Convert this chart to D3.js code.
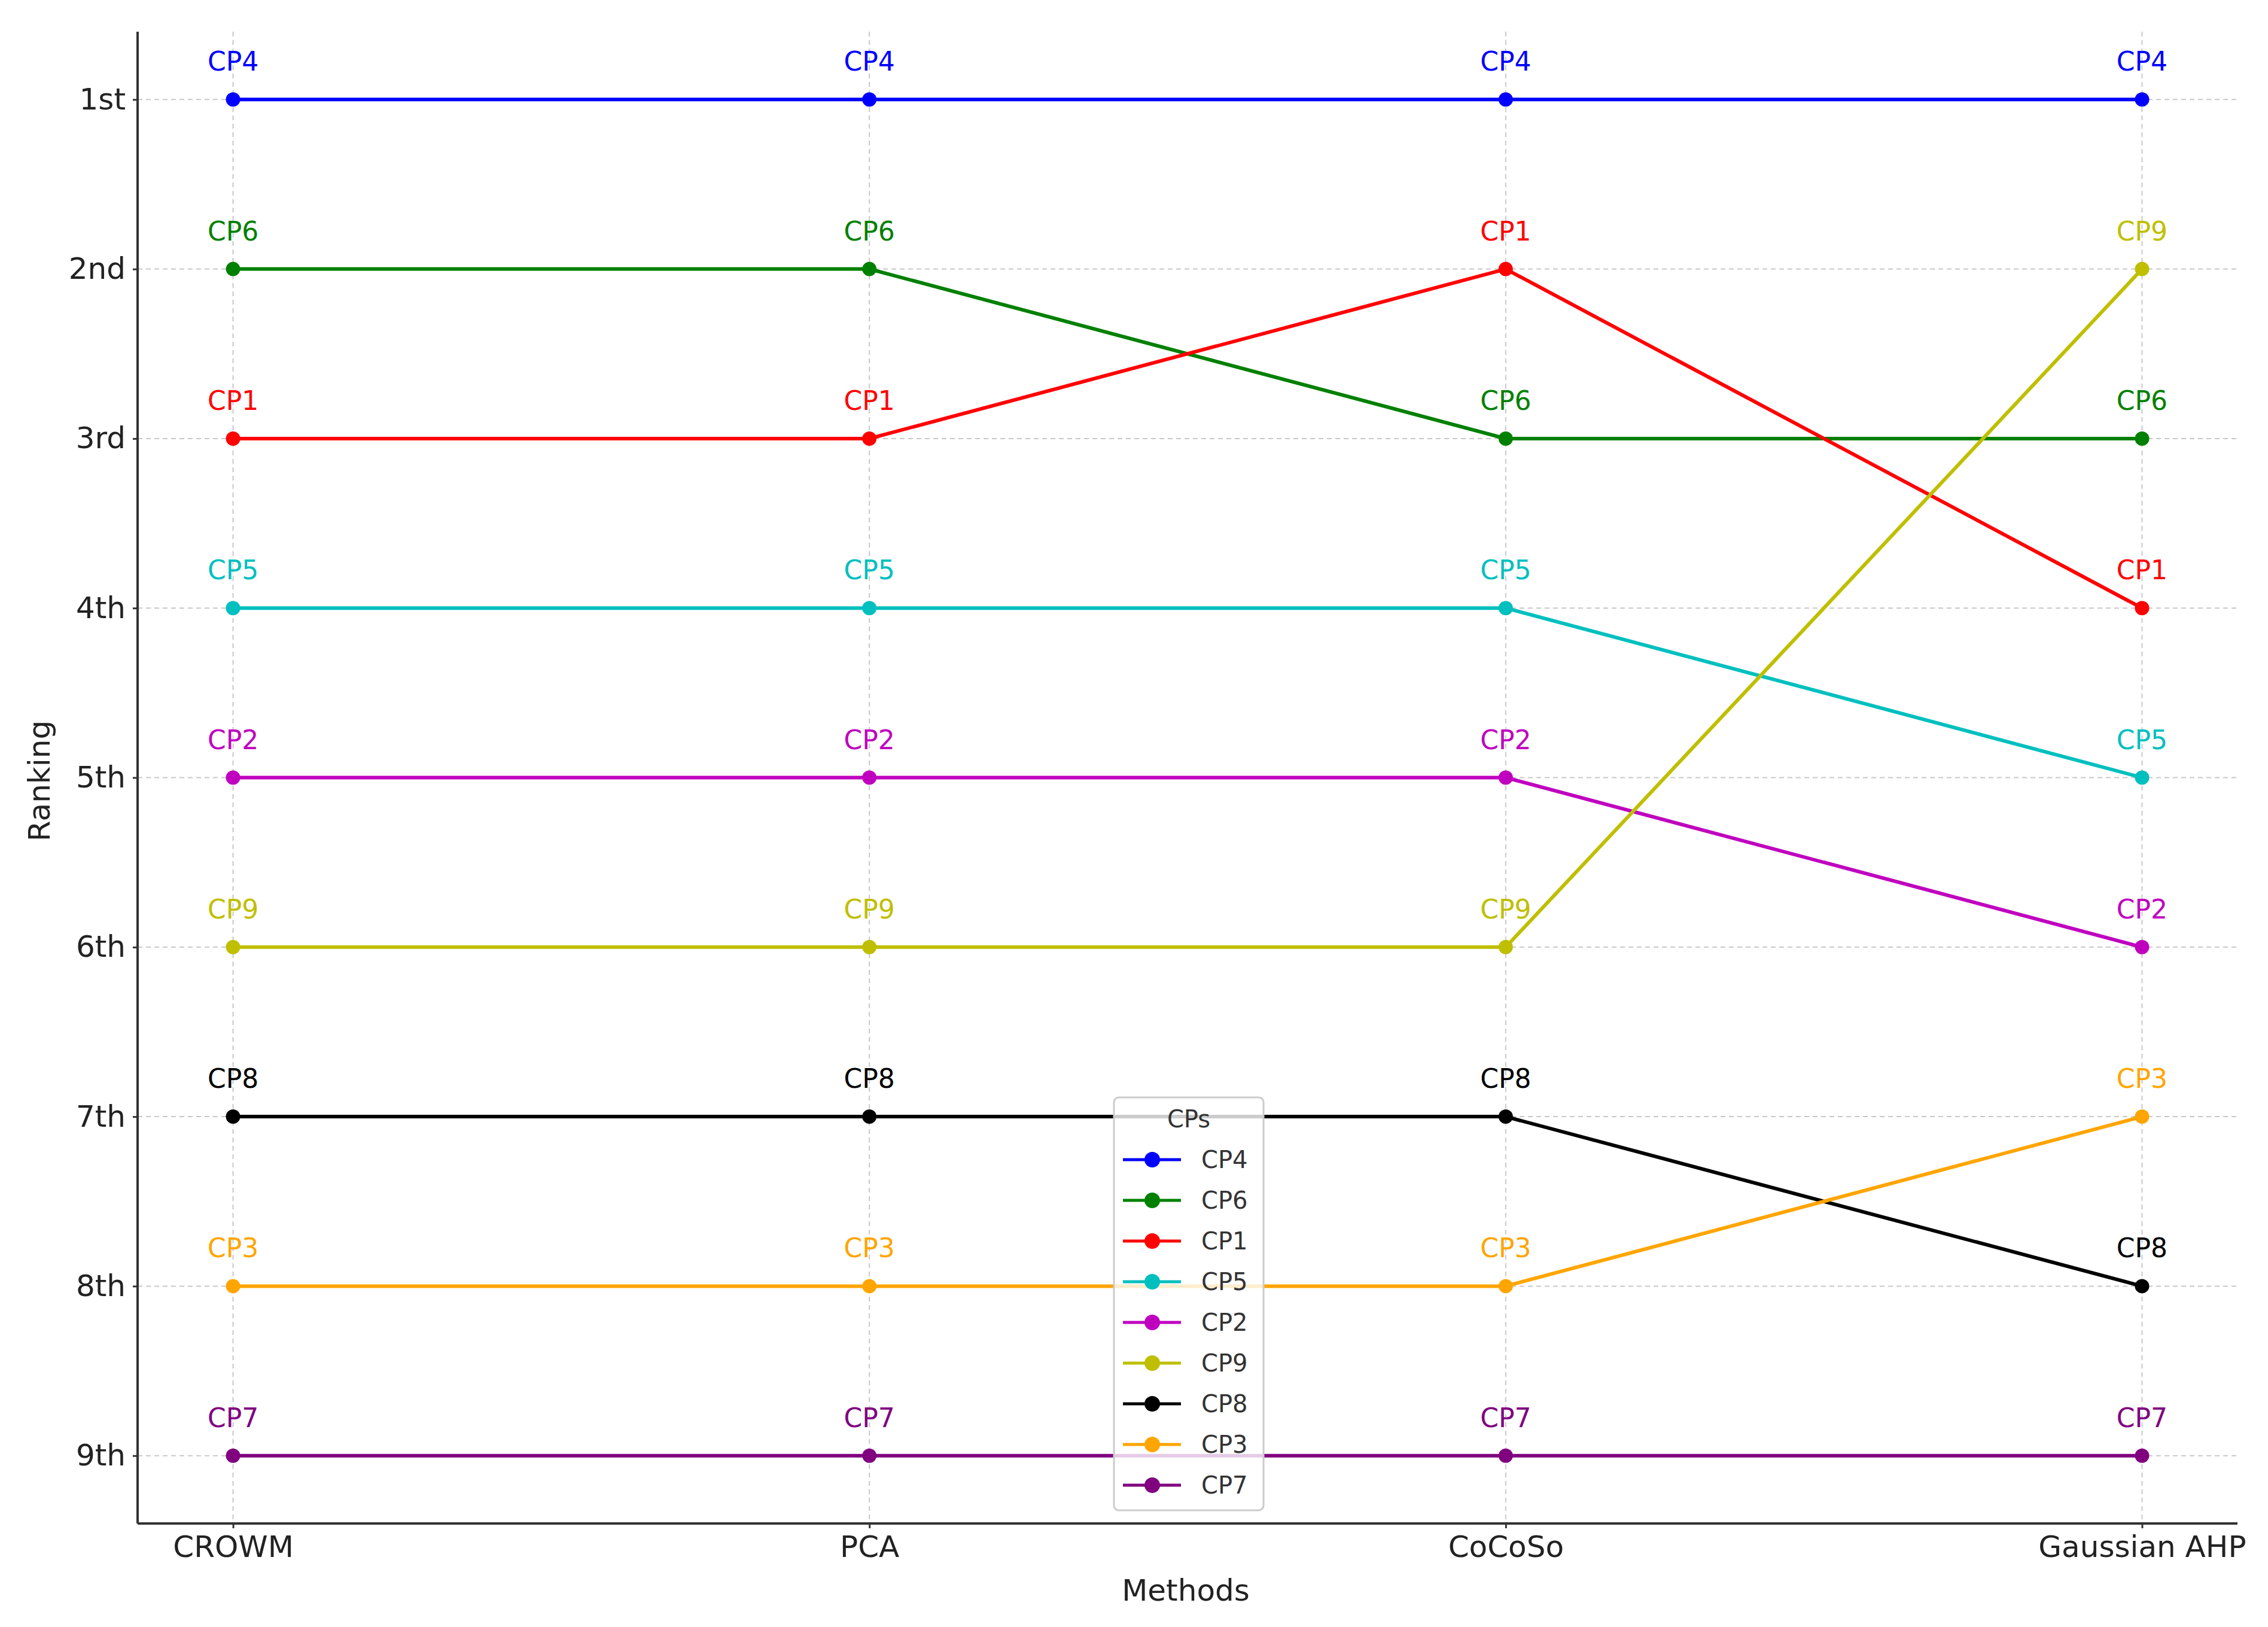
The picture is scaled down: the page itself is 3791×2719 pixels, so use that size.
<!DOCTYPE html>
<html><head><meta charset="utf-8">
<script src="https://cdn.jsdelivr.net/npm/d3@7"></script>
<style>body{margin:0;background:#fff}text{font-family:"DejaVu Sans",sans-serif}</style>
</head><body><svg id="c" width="3791" height="2719"></svg>
<script>
const methods=["CROWM","PCA","CoCoSo","Gaussian AHP"];
const rankLabels=["1st","2nd","3rd","4th","5th","6th","7th","8th","9th"];
const cps=["CP4","CP6","CP1","CP5","CP2","CP9","CP8","CP3","CP7"];
const colors=["#0000ff","#008000","#ff0000","#00bfbf","#bf00bf","#bfbf00","#000000","#ffa500","#800080"];
const ranks=[[1,1,1,1],[2,2,3,3],[3,3,2,4],[4,4,4,5],[5,5,5,6],[6,6,6,2],[7,7,7,8],[8,8,8,7],[9,9,9,9]];

const svg=d3.select("#c");
const L=230,R=3740,T=53,B=2546;
const xs=d3.scaleLinear().domain([-0.15,3.15]).range([L,R]);
const y=d3.scaleLinear().domain([0.6,9.4]).range([T,B]);
const g=svg.append("g");
g.selectAll(".gx").data(methods).join("line").attr("x1",(d,i)=>xs(i)).attr("x2",(d,i)=>xs(i)).attr("y1",T).attr("y2",B)
 .attr("stroke","#c8c8c8").attr("stroke-width",2).attr("stroke-dasharray","8,6");
g.selectAll(".gy").data(rankLabels).join("line").attr("y1",(d,i)=>y(i+1)).attr("y2",(d,i)=>y(i+1)).attr("x1",L).attr("x2",R)
 .attr("stroke","#c8c8c8").attr("stroke-width",2).attr("stroke-dasharray","8,6");
const yAx=svg.append("g").attr("transform",`translate(${L},0)`).call(d3.axisLeft(y).tickValues(d3.range(1,10)).tickFormat(d=>rankLabels[d-1]).tickSize(8).tickPadding(12));
const xAx=svg.append("g").attr("transform",`translate(0,${B})`).call(d3.axisBottom(xs).tickValues([0,1,2,3]).tickFormat(d=>methods[d]).tickSize(8).tickPadding(12));
[yAx,xAx].forEach(a=>{a.selectAll("text").attr("font-size",50).attr("fill","#222");a.selectAll("line").attr("stroke","#333").attr("stroke-width",3);a.select(".domain").attr("stroke","#333").attr("stroke-width",4);});
yAx.select(".domain").attr("d",`M0,${T}V${B}`);
xAx.select(".domain").attr("d",`M${L},0H${R}`);
svg.append("text").attr("x",(L+R)/2-3).attr("y",2675).attr("text-anchor","middle").attr("font-size",50).attr("fill","#222").text("Methods");
svg.append("text").attr("transform",`translate(83,1305) rotate(-90)`).attr("text-anchor","middle").attr("font-size",50).attr("fill","#222").text("Ranking");
const line=d3.line().x((d,i)=>xs(i)).y(d=>y(d));
cps.forEach((cp,k)=>{
 const s=svg.append("g");
 s.append("path").attr("d",line(ranks[k])).attr("fill","none").attr("stroke",colors[k]).attr("stroke-width",6);
 s.selectAll("circle").data(ranks[k]).join("circle").attr("cx",(d,i)=>xs(i)).attr("cy",d=>y(d)).attr("r",12).attr("fill",colors[k]);
 s.selectAll("text").data(ranks[k]).join("text").attr("x",(d,i)=>xs(i)).attr("y",d=>y(d)-48).attr("text-anchor","middle")
  .attr("font-size",44).attr("fill",colors[k]).text(cp);
});
const lg=svg.append("g");
lg.append("rect").attr("x",1862).attr("y",1834).attr("width",250).attr("height",690).attr("rx",8)
 .attr("fill","#fff").attr("fill-opacity",0.8).attr("stroke","#ccc").attr("stroke-width",3);
lg.append("text").attr("x",1987).attr("y",1884).attr("text-anchor","middle").attr("font-size",40).attr("fill","#333").text("CPs");
cps.forEach((cp,k)=>{
 const yy=1938+k*68;
 lg.append("line").attr("x1",1877).attr("x2",1974).attr("y1",yy).attr("y2",yy).attr("stroke",colors[k]).attr("stroke-width",5);
 lg.append("circle").attr("cx",1926).attr("cy",yy).attr("r",13).attr("fill",colors[k]);
 lg.append("text").attr("x",2008).attr("y",yy+14).attr("font-size",40).attr("fill","#333").text(cp);
});
</script></body></html>
